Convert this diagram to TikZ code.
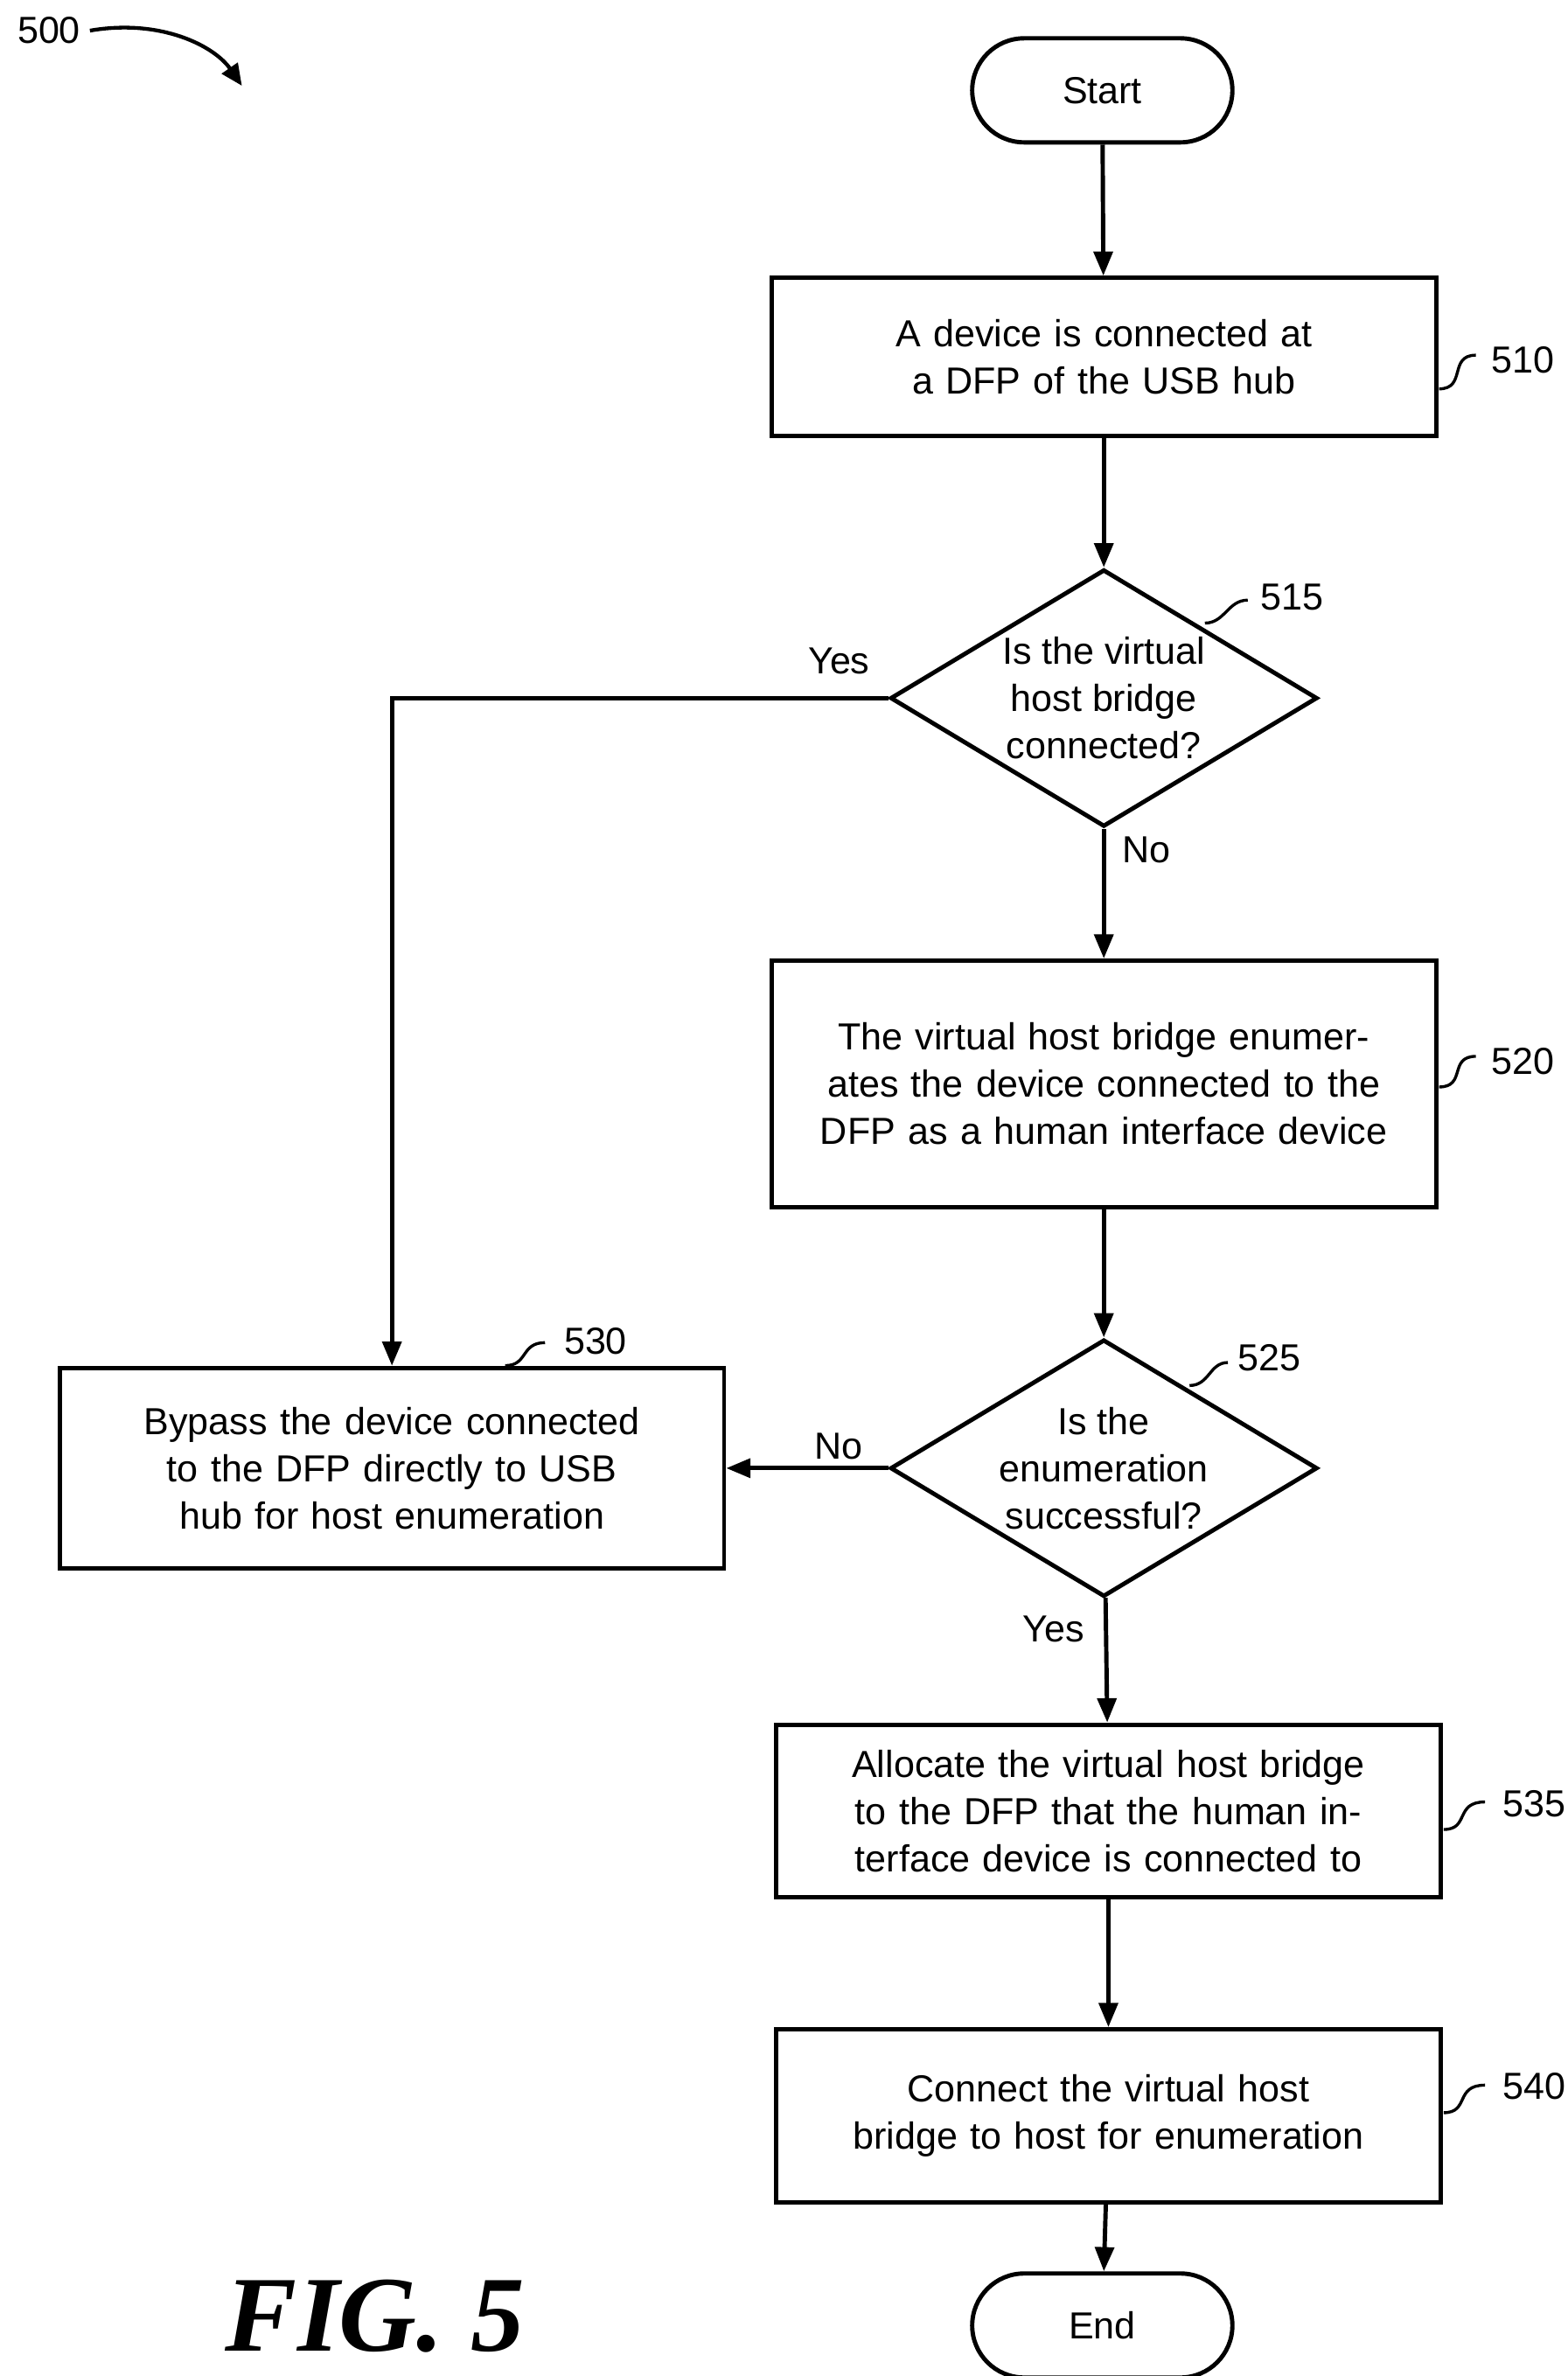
\documentclass[tikz,border=0pt]{standalone}
\usepackage{fontspec}
\setmainfont{Liberation Sans}
\newfontfamily\figfont{Liberation Serif}
\usetikzlibrary{arrows.meta,shapes.geometric}
\tikzset{
  flow/.style={line width=1.6pt,-{Triangle[length=9pt,width=7pt]}},
  proc/.style={draw,line width=1.6pt,align=center,text width=8.4cm,minimum width=8.68cm,
    font=\fontsize{14}{17.6}\selectfont},
  term/.style={draw,line width=1.6pt,rounded corners=0.68cm,minimum width=3.4cm,minimum height=1.36cm,
    font=\fontsize{14}{17.6}\selectfont},
  dec/.style={draw,line width=1.6pt,shape=diamond,minimum width=5.58cm,minimum height=3.36cm,aspect=1.66,inner sep=0pt},
  dectext/.style={align=center,font=\fontsize{14}{17.6}\selectfont},
  lbl/.style={font=\fontsize{14}{17}\selectfont},
  squig/.style={line width=1.1pt}
}
\begin{document}
\begin{tikzpicture}[x=0.02cm,y=-0.02cm]
	\useasboundingbox (0,0) rectangle (1024,1552);
	% Figure number
	\node [lbl] (n500) at (32,20) {500};
	\draw [line width=1.4pt,-{Triangle[length=8pt,width=7pt]}] (n500.east) .. controls (105,12) and (140,30) .. (158,56);
	\node [font=\figfont\fontsize{40}{44}\selectfont\bfseries\itshape] (fig) at (245,1513) {FIG. 5};
	% Steps
	\node [term] (start) at (720,59) {Start};
	\node [proc,minimum height=2.06cm] (s510) at (721,233) {A device is connected at a DFP of the USB hub};
	\node [dec] (s515) at (721,456) {};
	\node [dectext] at (s515) {Is the virtual\\host bridge\\connected?};
	\node [proc,minimum height=3.22cm] (s520) at (721,708) {The virtual host bridge enumerates the device connected to the DFP as a human interface device};
	\node [dec] (s525) at (721,959) {};
	\node [dectext] at (s525) {Is the\\enumeration\\successful?};
	\node [proc,minimum height=2.62cm] (s530) at (256,959) {Bypass the device connected to the DFP directly to USB hub for host enumeration};
	\node [proc,minimum height=2.26cm] (s535) at (724,1183) {Allocate the virtual host bridge to the DFP that the human interface device is connected to};
	\node [proc,minimum height=2.26cm] (s540) at (724,1382) {Connect the virtual host bridge to host for enumeration};
	\node [term] (end) at (720,1519) {End};
	% Connectors
	\draw [flow] (start) -- (s510);
	\draw [flow] (s510) -- (s515);
	\draw [flow] (s515) -- (s520);
	\draw [flow] (s520) -- (s525);
	\draw [flow] (s525) -- (s535);
	\draw [flow] (s535) -- (s540);
	\draw [flow] (s540) -- (end);
	\draw [flow] (s515.west) -| (s530.north);
	\draw [flow] (s525.west) -- (s525.west -| s530.east);
	% Branch labels
	\node [lbl] at (548,432) {Yes};
	\node [lbl] at (749,555) {No};
	\node [lbl] at (548,945) {No};
	\node [lbl] at (688,1064) {Yes};
	% Reference numbers
	\draw [squig] (940,254) .. controls (958,254) and (946,232) .. (964,232);\node [lbl] at (995,235) {510};
	\draw [squig] (787,407) .. controls (800,407) and (802,392) .. (815,392);\node [lbl] at (844,390) {515};
	\draw [squig] (940,710) .. controls (958,710) and (946,690) .. (964,690);\node [lbl] at (995,693) {520};
	\draw [squig] (777,905) .. controls (790,905) and (790,890) .. (802,890);\node [lbl] at (829,887) {525};
	\draw [squig] (330,892) .. controls (345,892) and (340,877) .. (356,877);\node [lbl] at (389,876) {530};
	\draw [squig] (943,1195) .. controls (960,1195) and (950,1177) .. (970,1177);\node [lbl] at (1002,1178) {535};
	\draw [squig] (943,1380) .. controls (960,1380) and (950,1362) .. (970,1362);\node [lbl] at (1002,1363) {540};
\end{tikzpicture}
\end{document}
